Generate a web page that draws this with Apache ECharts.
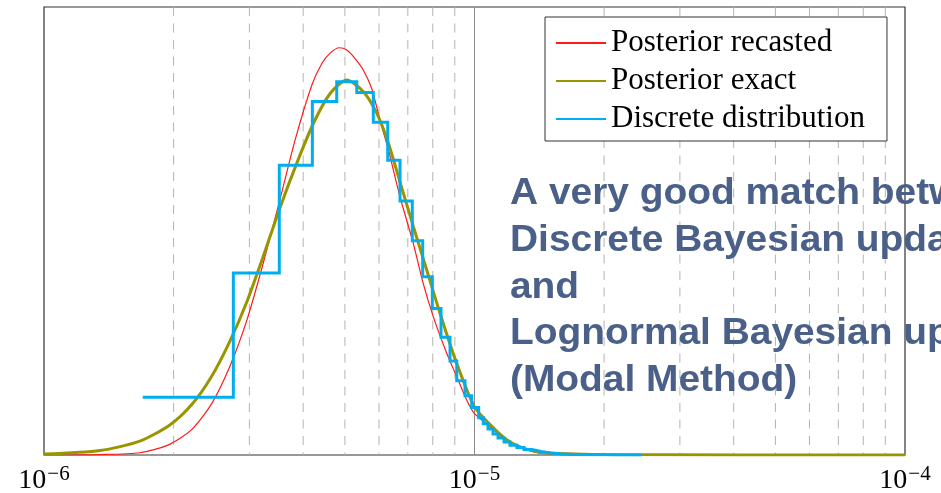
<!DOCTYPE html>
<html>
<head>
<meta charset="utf-8">
<script src="https://cdn.jsdelivr.net/npm/echarts@6/dist/echarts.min.js"></script>
<style>
  html, body { margin: 0; padding: 0; background: #fff; }
  #chart { width: 941px; height: 493px; }
</style>
</head>
<body>
<div id="chart"></div>
<script>
// Posterior densities on a log axis (arbitrary density units, peak normalised to the plot height)
const xMin = 1e-6;
const xMax = 1e-4;
const yMax = 1;

// Posterior recasted (thin red curve)
const recastX = [1.00e-6, 1.35e-6, 1.67e-6, 1.94e-6, 2.20e-6, 2.45e-6, 2.70e-6, 2.96e-6, 3.23e-6, 3.53e-6,
  3.83e-6, 4.19e-6, 4.42e-6, 4.62e-6, 4.85e-6, 5.05e-6, 5.28e-6, 5.52e-6, 5.77e-6, 6.03e-6,
  6.31e-6, 6.71e-6, 7.21e-6, 7.60e-6, 8.02e-6, 8.62e-6, 9.09e-6, 9.59e-6, 9.99e-6, 10.87e-6,
  11.88e-6, 12.76e-6, 14.2e-6, 20e-6, 1e-4];
const recastY = [0, 0.001, 0.005, 0.022, 0.056, 0.114, 0.197, 0.301, 0.428, 0.569,
  0.703, 0.826, 0.874, 0.897, 0.909, 0.904, 0.885, 0.859, 0.818, 0.748,
  0.681, 0.577, 0.472, 0.383, 0.309, 0.227, 0.175, 0.123, 0.093, 0.063,
  0.030, 0.017, 0.004, 0.0005, 0];

// Posterior exact (olive curve)
const exactX = [1.00e-6, 1.35e-6, 1.67e-6, 1.96e-6, 2.215e-6, 2.45e-6, 2.70e-6, 2.96e-6, 3.23e-6, 3.53e-6,
  3.864e-6, 4.223e-6, 4.62e-6, 5.05e-6, 5.52e-6, 5.927e-6, 6.31e-6, 6.71e-6, 7.21e-6, 7.745e-6,
  8.317e-6, 9.09e-6, 9.99e-6, 10.87e-6, 11.88e-6, 12.76e-6, 14.2e-6, 20e-6, 1e-4];
const exactY = [0.002, 0.010, 0.031, 0.067, 0.115, 0.175, 0.253, 0.342, 0.443, 0.551,
  0.651, 0.740, 0.807, 0.837, 0.811, 0.763, 0.696, 0.610, 0.510, 0.413,
  0.316, 0.205, 0.108, 0.068, 0.034, 0.018, 0.006, 0.001, 0];

// Discrete distribution: bin edges and bin heights (step outline)
const binEdges = [1.696e-6, 2.753e-6, 3.520e-6, 4.201e-6, 4.786e-6, 5.327e-6, 5.820e-6, 6.287e-6, 6.714e-6, 7.170e-6,
  7.580e-6, 7.980e-6, 8.360e-6, 8.772e-6, 9.093e-6, 9.504e-6, 9.851e-6, 10.226e-6, 10.48e-6, 10.75e-6,
  11.04e-6, 11.34e-6, 11.71e-6, 12.09e-6, 12.55e-6, 13.03e-6, 13.60e-6, 14.27e-6, 15.05e-6, 15.97e-6,
  17.03e-6, 18.35e-6, 20.0e-6, 22.0e-6, 24.46e-6];
const binHeights = [0.129, 0.406, 0.647, 0.789, 0.833, 0.809, 0.743, 0.658, 0.567, 0.478,
  0.398, 0.327, 0.263, 0.210, 0.166, 0.132, 0.106, 0.083, 0.070, 0.058,
  0.047, 0.038, 0.029, 0.022, 0.017, 0.012, 0.008, 0.0045, 0.0025, 0.0012,
  0.0006, 0.0003, 0.0001, 0.00005];

// Decade subdivisions drawn as dashed grid lines, plus the solid decade line
const minorGrid = [2e-6, 3e-6, 4e-6, 5e-6, 6e-6, 7e-6, 8e-6, 9e-6,
  2e-5, 3e-5, 4e-5, 5e-5, 6e-5, 7e-5, 8e-5, 9e-5];
const majorGrid = [1e-5];

const seriesNames = ['Posterior recasted', 'Posterior exact', 'Discrete distribution'];
const noteLines = [
  'A very good match between',
  'Discrete Bayesian update',
  'and',
  'Lognormal Bayesian update',
  '(Modal Method)'
];

const pair = (xs, ys) => xs.map((x, i) => [x, ys[i]]);

const stepPoints = [];
for (let i = 0; i < binHeights.length; i++) {
  stepPoints.push([binEdges[i], binHeights[i]]);
  stepPoints.push([binEdges[i + 1], binHeights[i]]);
}

// vertical rules: top-to-bottom segments separated by gaps
function ruleData(values) {
  const out = [];
  values.forEach(v => {
    out.push([v, yMax], [v, 0], [v, '-']);
  });
  return out;
}

const serif = '"Liberation Serif", "DejaVu Serif", serif';

const chart = echarts.init(document.getElementById('chart'), null, { renderer: 'canvas' });

chart.setOption({
  animation: false,
  backgroundColor: '#ffffff',
  grid: {
    left: 44, right: 36, top: 7, bottom: 38,
    show: true, borderColor: '#333333', borderWidth: 1.2,
    outerBoundsMode: 'none'
  },
  xAxis: {
    type: 'log',
    logBase: 10,
    min: xMin,
    max: xMax,
    axisLine: { show: false },
    axisTick: { show: false },
    splitLine: { show: false },
    axisLabel: {
      margin: 9,
      formatter: function (v) {
        const e = Math.round(Math.log10(v));
        return '{b|10}{s|' + (e < 0 ? '\u2212' : '') + Math.abs(e) + '}';
      },
      rich: {
        b: { fontFamily: serif, fontSize: 28, lineHeight: 30, color: '#000' },
        s: { fontFamily: serif, fontSize: 21, padding: [0, 0, 13, 1], color: '#000' }
      }
    }
  },
  yAxis: {
    type: 'value',
    min: 0,
    max: yMax,
    show: false,
    splitLine: { show: false }
  },
  legend: {
    data: seriesNames,
    orient: 'vertical',
    left: 545,
    top: 17,
    padding: [10, 22, 6, 10],
    itemGap: 6,
    itemWidth: 50,
    itemHeight: 14,
    backgroundColor: '#ffffff',
    borderColor: '#333333',
    borderWidth: 1,
    borderRadius: 0,
    selectedMode: false,
    itemStyle: { opacity: 0, borderWidth: 0 },
    textStyle: { fontFamily: serif, fontSize: 31, lineHeight: 32, color: '#000' }
  },
  graphic: [{
    type: 'text',
    x: 510,
    y: 171,
    scaleX: 1.08,
    z: 100,
    style: {
      text: noteLines.join('\n'),
      fontFamily: '"Liberation Sans", Arial, sans-serif',
      fontWeight: 'bold',
      fontSize: 36,
      lineHeight: 46.7,
      verticalAlign: 'top',
      fill: '#4a6089'
    }
  }],
  series: [
    {
      name: 'minor rules',
      type: 'line',
      data: ruleData(minorGrid),
      silent: true,
      symbol: 'none',
      connectNulls: false,
      z: 1,
      lineStyle: { type: [9, 7.5], color: '#b4b4b4', width: 1 }
    },
    {
      name: 'decade rules',
      type: 'line',
      data: ruleData(majorGrid),
      silent: true,
      symbol: 'none',
      z: 1,
      lineStyle: { type: 'solid', color: '#8a8a8a', width: 1 }
    },
    {
      name: seriesNames[0],
      type: 'line',
      data: pair(recastX, recastY),
      showSymbol: false,
      symbol: 'none',
      smooth: 0.25,
      z: 3,
      lineStyle: { color: '#ff1a1a', width: 1.2 },
      itemStyle: { color: '#ff1a1a' }
    },
    {
      name: seriesNames[1],
      type: 'line',
      data: pair(exactX, exactY),
      showSymbol: false,
      symbol: 'none',
      smooth: 0.25,
      z: 4,
      lineStyle: { color: '#999500', width: 3 },
      itemStyle: { color: '#999500' }
    },
    {
      name: seriesNames[2],
      type: 'line',
      data: stepPoints,
      showSymbol: false,
      symbol: 'none',
      z: 5,
      lineStyle: { color: '#00aeef', width: 3, join: 'miter' },
      itemStyle: { color: '#00aeef' }
    }
  ]
});
</script>
</body>
</html>
